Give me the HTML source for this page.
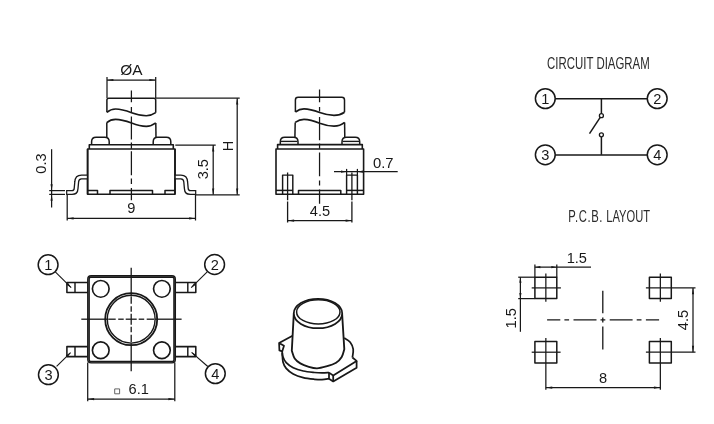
<!DOCTYPE html>
<html><head><meta charset="utf-8"><title>Tact switch drawing</title>
<style>
html,body{margin:0;padding:0;background:#fff;}
body{width:714px;height:424px;overflow:hidden;font-family:"Liberation Sans",sans-serif;}
svg{display:block;filter:grayscale(1);}
svg text{font-family:"Liberation Sans",sans-serif;}
</style></head><body>
<svg width="714" height="424" viewBox="0 0 714 424" stroke="#181818" fill="none" stroke-linecap="butt" stroke-linejoin="round">
<rect x="0" y="0" width="714" height="424" fill="#fff" stroke="none"/>
<line x1="131.4" y1="90.5" x2="131.4" y2="200.2" stroke-width="1.25" stroke-dasharray="11.8 4.7 4.9 4.5 23.1 2.9 6.4 2.4 24.1 3.2 5.6 4 12.1"/>
<line x1="107" y1="77" x2="107" y2="98" stroke-width="1.25" />
<line x1="155.7" y1="77" x2="155.7" y2="98" stroke-width="1.25" />
<line x1="107" y1="80" x2="155.7" y2="80" stroke-width="1.25" />
<polygon points="107.00,80.00 113.40,78.90 113.40,81.10" fill="#181818" stroke="none"/>
<polygon points="155.70,80.00 149.30,81.10 149.30,78.90" fill="#181818" stroke="none"/>
<text x="131.3" y="75" font-size="15.4" text-anchor="middle" fill="#181818" stroke="none" >ØA</text>
<path d="M106.9,112.3 L106.9,100 Q106.9,98.2 108.7,98.2 L153.9,98.2 Q155.7,98.2 155.7,100 L155.7,112.7" stroke-width="1.5" fill="none" />
<path d="M106.9,112.3 C109.5,110 112.5,109 115.6,109 C121,109 126,110.6 131.6,112.7 C137,114.7 142,115.7 146.3,115.7 C150,115.7 153,114.6 155.7,112.7" stroke-width="1.65" fill="none" />
<path d="M106.8,137.2 L106.8,122.6" stroke-width="1.5" fill="none" />
<path d="M156,137.2 L155.8,122.9" stroke-width="1.5" fill="none" />
<path d="M106.8,122.6 C109.5,120.3 112.5,119.4 115.6,119.4 C121,119.4 126,121 131.6,123.1 C137,125.2 142,126.4 146.3,126.4 C150,126.4 153,125 155.8,122.9" stroke-width="1.65" fill="none" />
<path d="M91.6,144.7 L91.6,141.7 Q91.6,137.2 96.1,137.2 L104.7,137.2 Q109.2,137.2 109.2,141.7 L109.2,144.7" stroke-width="1.5" fill="none" />
<path d="M153.2,144.7 L153.2,141.7 Q153.2,137.2 157.7,137.2 L166.3,137.2 Q170.8,137.2 170.8,141.7 L170.8,144.7" stroke-width="1.5" fill="none" />
<path d="M89.3,149 L89.3,144.7 L173.3,144.7 L173.3,149" stroke-width="1.6" fill="none" />
<path d="M87.6,149 L175,149 L175,194.3 L87.6,194.3 Z" stroke-width="1.6" fill="none" />
<path d="M87.6,190.4 L97.5,190.4 L97.5,194.3" stroke-width="1.5" fill="none" />
<path d="M110,194.3 L110,190.4 L152.5,190.4 L152.5,194.3" stroke-width="1.5" fill="none" />
<path d="M165,194.3 L165,190.4 L175,190.4" stroke-width="1.5" fill="none" />
<path d="M87.7,177 H81.5 Q76.9,177 76.7,182 L76.1,188.5 Q75.9,192.5 72,192.5 H66.7" stroke-width="5.1" fill="none" stroke-linecap="butt"/>
<path d="M87.7,177 H81.5 Q76.9,177 76.7,182 L76.1,188.5 Q75.9,192.5 72,192.5 H66.7" stroke-width="2.5" fill="none" stroke="#fff" stroke-linecap="butt"/>
<line x1="66.7" y1="189.9" x2="66.7" y2="195.1" stroke-width="1.2" />
<path d="M174.7,177 H180.89999999999998 Q185.49999999999997,177 185.7,182 L186.29999999999998,188.5 Q186.49999999999997,192.5 190.39999999999998,192.5 H195.7" stroke-width="5.1" fill="none" stroke-linecap="butt"/>
<path d="M174.7,177 H180.89999999999998 Q185.49999999999997,177 185.7,182 L186.29999999999998,188.5 Q186.49999999999997,192.5 190.39999999999998,192.5 H195.7" stroke-width="2.5" fill="none" stroke="#fff" stroke-linecap="butt"/>
<line x1="195.7" y1="189.9" x2="195.7" y2="195.1" stroke-width="1.2" />
<line x1="87.6" y1="149" x2="87.6" y2="194.3" stroke-width="1.6" />
<line x1="175" y1="149" x2="175" y2="194.3" stroke-width="1.6" />
<line x1="67.2" y1="195" x2="67.2" y2="220.5" stroke-width="1.25" />
<line x1="195.5" y1="195" x2="195.5" y2="220.5" stroke-width="1.25" />
<line x1="67.2" y1="218.4" x2="195.5" y2="218.4" stroke-width="1.25" />
<polygon points="67.20,218.40 73.60,217.30 73.60,219.50" fill="#181818" stroke="none"/>
<polygon points="195.50,218.40 189.10,219.50 189.10,217.30" fill="#181818" stroke="none"/>
<rect x="124" y="201" width="14" height="14" fill="#fff" stroke="none"/>
<text x="131.2" y="213.3" font-size="14.6" text-anchor="middle" fill="#181818" stroke="none" >9</text>
<line x1="51.6" y1="149.2" x2="51.6" y2="207.5" stroke-width="1.25" />
<line x1="49.2" y1="190.6" x2="65" y2="190.6" stroke-width="1.25" />
<line x1="49.2" y1="194.4" x2="65" y2="194.4" stroke-width="1.25" />
<polygon points="51.60,190.60 50.50,184.20 52.70,184.20" fill="#181818" stroke="none"/>
<polygon points="51.60,194.40 52.70,200.80 50.50,200.80" fill="#181818" stroke="none"/>
<text transform="translate(46.3,163.5) rotate(-90)" font-size="14.6" text-anchor="middle" fill="#181818" stroke="none" >0.3</text>
<line x1="175.3" y1="145.1" x2="215.7" y2="145.1" stroke-width="1.25" />
<line x1="213.2" y1="145.1" x2="213.2" y2="194.8" stroke-width="1.25" />
<polygon points="213.20,145.10 214.30,151.50 212.10,151.50" fill="#181818" stroke="none"/>
<polygon points="213.20,194.80 212.10,188.40 214.30,188.40" fill="#181818" stroke="none"/>
<text transform="translate(207.9,169.2) rotate(-90)" font-size="14.6" text-anchor="middle" fill="#181818" stroke="none" >3.5</text>
<line x1="155.7" y1="98.2" x2="239.7" y2="98.2" stroke-width="1.25" />
<line x1="237.2" y1="98.2" x2="237.2" y2="194.8" stroke-width="1.25" />
<polygon points="237.20,98.20 238.30,104.60 236.10,104.60" fill="#181818" stroke="none"/>
<polygon points="237.20,194.80 236.10,188.40 238.30,188.40" fill="#181818" stroke="none"/>
<text transform="translate(233.2,146) rotate(-90)" font-size="14.6" text-anchor="middle" fill="#181818" stroke="none" >H</text>
<line x1="196" y1="194.8" x2="239.7" y2="194.8" stroke-width="1.25" />
<line x1="319.55" y1="89.5" x2="319.55" y2="203.8" stroke-width="1.25" stroke-dasharray="12.7 4.8 4.4 5.5 23.3 3.4 5.1 3.9 23.7 4.1 5.1 3.9 14.4"/>
<path d="M295.4,112 L295.4,100 Q295.4,97.3 298.1,97.3 L341.8,97.3 Q344.5,97.3 344.5,100 L344.5,112.2" stroke-width="1.5" fill="none" />
<path d="M295.4,112 C298,110 301,108.9 304,108.9 C309.5,108.9 314.5,110.6 319.7,112.6 C325,114.6 330,115.3 334,115.3 C338,115.3 341.5,114.3 344.5,112.2" stroke-width="1.65" fill="none" />
<path d="M294.9,138 L295.2,122.4" stroke-width="1.5" fill="none" />
<path d="M344.8,138 L344.6,122.4" stroke-width="1.5" fill="none" />
<path d="M295.2,122.4 C298,120.4 301,119.3 304,119.3 C309.5,119.3 314.5,121 319.7,123.2 C325,125.2 330,126.1 334,126.1 C338,126.1 341.5,124.9 344.6,122.4" stroke-width="1.65" fill="none" />
<path d="M280.3,144.6 L280.3,141.7 Q280.3,137.2 284.8,137.2 L293.5,137.2 Q298,137.2 298,141.7 L298,144.6" stroke-width="1.5" fill="none" />
<line x1="280.90000000000003" y1="141.4" x2="297.4" y2="141.4" stroke-width="1.35" />
<path d="M342,144.6 L342,141.7 Q342,137.2 346.5,137.2 L355.2,137.2 Q359.7,137.2 359.7,141.7 L359.7,144.6" stroke-width="1.5" fill="none" />
<line x1="342.6" y1="141.4" x2="359.09999999999997" y2="141.4" stroke-width="1.35" />
<path d="M277.6,149 L277.6,144.6 L362.3,144.6 L362.3,149" stroke-width="1.6" fill="none" />
<path d="M276,149 L363.6,149 L363.6,194.3 L276,194.3 Z" stroke-width="1.6" fill="none" />
<line x1="276" y1="190.4" x2="292.8" y2="190.4" stroke-width="1.5" />
<line x1="346.6" y1="190.4" x2="363.6" y2="190.4" stroke-width="1.5" />
<path d="M298.5,194.3 L298.5,190.4 L340.8,190.4 L340.8,194.3" stroke-width="1.5" fill="none" />
<path d="M282.6,194.3 L282.6,175.1 L292.8,175.1 L292.8,194.3" stroke-width="1.45" fill="none" />
<line x1="287.6" y1="172.4" x2="287.6" y2="222.6" stroke-width="1.3" stroke-dasharray="27.8 1.4 30"/>
<path d="M346.6,194.3 L346.6,175.1 L357.4,175.1 L357.4,194.3" stroke-width="1.45" fill="none" />
<line x1="351.9" y1="172.4" x2="351.9" y2="222.6" stroke-width="1.3" stroke-dasharray="27.8 1.4 30"/>
<line x1="287.7" y1="220.6" x2="352" y2="220.6" stroke-width="1.25" />
<polygon points="287.70,220.60 294.10,219.50 294.10,221.70" fill="#181818" stroke="none"/>
<polygon points="352.00,220.60 345.60,221.70 345.60,219.50" fill="#181818" stroke="none"/>
<rect x="309" y="204" width="22" height="13" fill="#fff" stroke="none"/>
<text x="320" y="215.8" font-size="14.6" text-anchor="middle" fill="#181818" stroke="none" >4.5</text>
<line x1="334" y1="171.7" x2="397.7" y2="171.7" stroke-width="1.25" />
<polygon points="346.60,171.70 341.00,172.80 341.00,170.60" fill="#181818" stroke="none"/>
<polygon points="357.40,171.70 363.00,170.60 363.00,172.80" fill="#181818" stroke="none"/>
<line x1="346.6" y1="168.9" x2="346.6" y2="175" stroke-width="1.25" />
<line x1="357.4" y1="168.9" x2="357.4" y2="175" stroke-width="1.25" />
<text x="383.2" y="167.6" font-size="14.8" text-anchor="middle" fill="#181818" stroke="none" >0.7</text>
<rect x="66.9" y="282.5" width="21.099999999999994" height="10.0" stroke-width="1.55" fill="#fff"/>
<line x1="75" y1="282.5" x2="75" y2="292.5" stroke-width="1.45" />
<rect x="174.5" y="282.5" width="21.30000000000001" height="10.0" stroke-width="1.55" fill="#fff"/>
<line x1="187.8" y1="282.5" x2="187.8" y2="292.5" stroke-width="1.45" />
<rect x="66.9" y="346.6" width="21.099999999999994" height="10.0" stroke-width="1.55" fill="#fff"/>
<line x1="75" y1="346.6" x2="75" y2="356.6" stroke-width="1.45" />
<rect x="174.5" y="346.6" width="21.30000000000001" height="10.0" stroke-width="1.55" fill="#fff"/>
<line x1="187.8" y1="346.6" x2="187.8" y2="356.6" stroke-width="1.45" />
<rect x="87.75" y="275.75" width="87.6" height="87.1" rx="3.4" ry="3.4" stroke-width="1.35" fill="#fff"/>
<rect x="89.05" y="277.05" width="85" height="84.5" rx="1.7" ry="1.7" stroke-width="1.65" fill="#fff"/>
<circle cx="100.75" cy="288.85" r="8.35" stroke-width="1.65" fill="none"/>
<circle cx="161.9" cy="288.85" r="8.35" stroke-width="1.65" fill="none"/>
<circle cx="100.75" cy="350.2" r="8.35" stroke-width="1.65" fill="none"/>
<circle cx="161.9" cy="350.2" r="8.35" stroke-width="1.65" fill="none"/>
<circle cx="131.2" cy="319.2" r="26.0" stroke-width="1.8" fill="none"/>
<circle cx="131.2" cy="319.2" r="23.9" stroke-width="1.4" fill="none"/>
<line x1="81.3" y1="319.2" x2="107.19999999999999" y2="319.2" stroke-width="1.3" />
<line x1="155.2" y1="319.2" x2="181.6" y2="319.2" stroke-width="1.3" />
<line x1="131.2" y1="267.8" x2="131.2" y2="295.2" stroke-width="1.3" />
<line x1="131.2" y1="343.2" x2="131.2" y2="371.3" stroke-width="1.3" />
<line x1="108.19999999999999" y1="319.2" x2="115.69999999999999" y2="319.2" stroke-width="1.3" />
<line x1="131.2" y1="296.2" x2="131.2" y2="303.7" stroke-width="1.3" />
<line x1="118.19999999999999" y1="319.2" x2="123.69999999999999" y2="319.2" stroke-width="1.3" />
<line x1="131.2" y1="306.2" x2="131.2" y2="311.7" stroke-width="1.3" />
<line x1="125.69999999999999" y1="319.2" x2="136.7" y2="319.2" stroke-width="1.3" />
<line x1="131.2" y1="313.7" x2="131.2" y2="324.7" stroke-width="1.3" />
<line x1="138.7" y1="319.2" x2="144.2" y2="319.2" stroke-width="1.3" />
<line x1="131.2" y1="326.7" x2="131.2" y2="332.2" stroke-width="1.3" />
<line x1="146.7" y1="319.2" x2="154.2" y2="319.2" stroke-width="1.3" />
<line x1="131.2" y1="334.7" x2="131.2" y2="342.2" stroke-width="1.3" />
<line x1="55.3" y1="271.8" x2="71.2" y2="287.7" stroke-width="1.1" />
<polygon points="71.20,287.70 66.46,284.66 68.16,282.96" fill="#181818" stroke="none"/>
<line x1="207.2" y1="271.8" x2="191.2" y2="287.7" stroke-width="1.1" />
<polygon points="191.20,287.70 194.26,282.97 195.95,284.67" fill="#181818" stroke="none"/>
<line x1="56.6" y1="366.3" x2="70.6" y2="352.6" stroke-width="1.1" />
<polygon points="70.60,352.60 67.51,357.30 65.83,355.59" fill="#181818" stroke="none"/>
<line x1="207.8" y1="366.5" x2="191.6" y2="352.3" stroke-width="1.1" />
<polygon points="191.60,352.30 196.53,355.02 194.95,356.83" fill="#181818" stroke="none"/>
<circle cx="48.1" cy="264.7" r="9.9" stroke-width="1.5" fill="#fff"/>
<text x="48.2" y="269.7" font-size="14.6" text-anchor="middle" fill="#181818" stroke="none" >1</text>
<circle cx="214.6" cy="264.5" r="9.9" stroke-width="1.5" fill="#fff"/>
<text x="214.7" y="269.5" font-size="14.6" text-anchor="middle" fill="#181818" stroke="none" >2</text>
<circle cx="48.4" cy="374.7" r="9.9" stroke-width="1.5" fill="#fff"/>
<text x="48.5" y="379.7" font-size="14.6" text-anchor="middle" fill="#181818" stroke="none" >3</text>
<circle cx="215.3" cy="373.6" r="9.9" stroke-width="1.5" fill="#fff"/>
<text x="215.4" y="378.6" font-size="14.6" text-anchor="middle" fill="#181818" stroke="none" >4</text>
<line x1="87.7" y1="362.5" x2="87.7" y2="401.2" stroke-width="1.25" />
<line x1="174.8" y1="362.5" x2="174.8" y2="401.2" stroke-width="1.25" />
<line x1="87.7" y1="399.1" x2="174.8" y2="399.1" stroke-width="1.25" />
<polygon points="87.70,399.10 94.10,398.00 94.10,400.20" fill="#181818" stroke="none"/>
<polygon points="174.80,399.10 168.40,400.20 168.40,398.00" fill="#181818" stroke="none"/>
<text x="138.7" y="393.8" font-size="14.6" text-anchor="middle" fill="#181818" stroke="none" >6.1</text>
<rect x="114.7" y="388.9" width="4.9" height="4.9" stroke-width="0.9" stroke="#555" fill="none"/>
<path d="M293,335.4 L279.1,342.9 L279.4,350.4 L282.2,351.4 L284,345.7 L279.1,342.9" stroke-width="1.75" fill="none" />
<path d="M282.20,351.40 C282.28,352.22 282.03,354.42 282.70,356.30 C283.37,358.18 284.45,360.80 286.20,362.70 C287.95,364.60 290.37,366.32 293.20,367.70 C296.03,369.08 299.65,370.20 303.20,371.00 C306.75,371.80 311.37,372.18 314.50,372.50 C317.63,372.82 319.58,372.88 322.00,372.90 C324.42,372.92 327.83,372.65 329.00,372.60" stroke-width="1.75" fill="none" />
<path d="M282.30,353.00 C282.42,354.50 282.35,359.43 283.00,362.00 C283.65,364.57 284.50,366.40 286.20,368.40 C287.90,370.40 290.37,372.47 293.20,374.00 C296.03,375.53 299.65,376.72 303.20,377.60 C306.75,378.48 311.37,378.95 314.50,379.30 C317.63,379.65 319.58,379.80 322.00,379.70 C324.42,379.60 327.83,378.87 329.00,378.70" stroke-width="1.75" fill="none" />
<path d="M329,372.6 L333.2,375.5 L356.6,360.9 L352.4,357.5" stroke-width="1.75" fill="none" />
<path d="M329,372.6 L329,378.7 L333.2,381.4 L356.6,367.7 L356.6,360.9" stroke-width="1.75" fill="none" />
<line x1="333.2" y1="375.5" x2="333.2" y2="381.4" stroke-width="1.75" />
<path d="M344.20,337.90 C345.20,338.62 348.70,340.32 350.20,342.20 C351.70,344.08 352.83,346.65 353.20,349.20 C353.57,351.75 352.53,356.12 352.40,357.50" stroke-width="1.75" fill="none" />
<path d="M293.8,313.5 L291.8,350.7 C292.28,352.00 293.28,356.38 294.70,358.50 C296.12,360.62 297.95,362.02 300.30,363.40 C302.65,364.78 306.02,365.98 308.80,366.80 C311.58,367.62 314.10,368.37 317.00,368.30 C319.90,368.23 323.02,367.33 326.20,366.40 C329.38,365.47 333.52,364.27 336.10,362.70 C338.68,361.13 340.33,359.25 341.70,357.00 C343.07,354.75 343.87,350.50 344.30,349.20 L342.1,313.5" stroke-width="1.85" fill="#fff" />
<ellipse cx="318" cy="313.5" rx="24.2" ry="14.7" stroke-width="1.8" fill="#fff"/>
<ellipse cx="318.3" cy="311.9" rx="21.7" ry="12.1" stroke-width="1.5" fill="#fff"/>
<text transform="translate(598.4,69.0) scale(0.715,1)" font-size="16" text-anchor="middle" fill="#2b2b2b" stroke="none" >CIRCUIT DIAGRAM</text>
<line x1="555" y1="98.7" x2="647" y2="98.7" stroke-width="1.5" />
<line x1="555" y1="154.9" x2="647" y2="154.9" stroke-width="1.5" />
<circle cx="545.3" cy="98.6" r="9.9" stroke-width="1.5" fill="#fff"/>
<text x="545.4" y="103.6" font-size="14.6" text-anchor="middle" fill="#181818" stroke="none" >1</text>
<circle cx="657.2" cy="98.6" r="9.9" stroke-width="1.5" fill="#fff"/>
<text x="657.3000000000001" y="103.6" font-size="14.6" text-anchor="middle" fill="#181818" stroke="none" >2</text>
<circle cx="545.3" cy="154.8" r="9.9" stroke-width="1.5" fill="#fff"/>
<text x="545.4" y="159.8" font-size="14.6" text-anchor="middle" fill="#181818" stroke="none" >3</text>
<circle cx="657.2" cy="154.8" r="9.9" stroke-width="1.5" fill="#fff"/>
<text x="657.3000000000001" y="159.8" font-size="14.6" text-anchor="middle" fill="#181818" stroke="none" >4</text>
<line x1="601.4" y1="98.6" x2="601.4" y2="113.7" stroke-width="1.5" />
<line x1="601.4" y1="136.8" x2="601.4" y2="154.8" stroke-width="1.5" />
<circle cx="601.4" cy="115.7" r="2.0" stroke-width="1.3" fill="#fff"/>
<circle cx="601.4" cy="134.8" r="2.0" stroke-width="1.3" fill="#fff"/>
<line x1="600.2" y1="117.4" x2="589.5" y2="133.6" stroke-width="1.5" />
<text transform="translate(568.2,221.6) scale(0.705,1)" font-size="16" text-anchor="start" fill="#2b2b2b" stroke="none" letter-spacing="0.9">P.C.B.</text>
<text transform="translate(650.0,221.6) scale(0.697,1)" font-size="16" text-anchor="end" fill="#2b2b2b" stroke="none" >LAYOUT</text>
<rect x="534.9" y="277.2" width="21.9" height="21.4" stroke-width="1.5" fill="none"/>
<line x1="531.7" y1="287.9" x2="560.9" y2="287.9" stroke-width="1.25" />
<line x1="545.85" y1="273.4" x2="545.85" y2="301.7" stroke-width="1.25" />
<rect x="649.4" y="277.2" width="21.9" height="21.4" stroke-width="1.5" fill="none"/>
<line x1="645.9" y1="287.9" x2="695.5" y2="287.9" stroke-width="1.25" />
<line x1="660.35" y1="273.4" x2="660.35" y2="301.7" stroke-width="1.25" />
<rect x="534.9" y="341.5" width="21.9" height="21.4" stroke-width="1.5" fill="none"/>
<line x1="531.7" y1="352.2" x2="560.6" y2="352.2" stroke-width="1.25" />
<line x1="545.85" y1="338" x2="545.85" y2="389.8" stroke-width="1.25" />
<rect x="649.4" y="341.5" width="21.9" height="21.4" stroke-width="1.5" fill="none"/>
<line x1="645.9" y1="352.2" x2="695.5" y2="352.2" stroke-width="1.25" />
<line x1="660.35" y1="338" x2="660.35" y2="389.8" stroke-width="1.25" />
<line x1="534.9" y1="264.6" x2="534.9" y2="277.2" stroke-width="1.25" />
<line x1="556.8" y1="264.6" x2="556.8" y2="277.2" stroke-width="1.25" />
<line x1="534.9" y1="267.2" x2="591" y2="267.2" stroke-width="1.25" />
<polygon points="534.90,267.20 540.40,266.10 540.40,268.30" fill="#181818" stroke="none"/>
<polygon points="556.80,267.20 551.30,268.30 551.30,266.10" fill="#181818" stroke="none"/>
<text x="576.8" y="263.4" font-size="14.6" text-anchor="middle" fill="#181818" stroke="none" >1.5</text>
<line x1="518.2" y1="277.2" x2="534.9" y2="277.2" stroke-width="1.25" />
<line x1="518.2" y1="298.6" x2="534.9" y2="298.6" stroke-width="1.25" />
<line x1="520.4" y1="277.2" x2="520.4" y2="331.8" stroke-width="1.25" />
<polygon points="520.40,277.20 521.50,282.70 519.30,282.70" fill="#181818" stroke="none"/>
<polygon points="520.40,298.60 519.30,293.10 521.50,293.10" fill="#181818" stroke="none"/>
<text transform="translate(515.7,318.3) rotate(-90)" font-size="14.6" text-anchor="middle" fill="#181818" stroke="none" >1.5</text>
<line x1="693" y1="287.9" x2="693" y2="352.2" stroke-width="1.25" />
<polygon points="693.00,287.90 694.10,294.30 691.90,294.30" fill="#181818" stroke="none"/>
<polygon points="693.00,352.20 691.90,345.80 694.10,345.80" fill="#181818" stroke="none"/>
<text transform="translate(687.7,320) rotate(-90)" font-size="14.6" text-anchor="middle" fill="#181818" stroke="none" >4.5</text>
<line x1="545.85" y1="387.6" x2="660.35" y2="387.6" stroke-width="1.25" />
<polygon points="545.85,387.60 552.25,386.50 552.25,388.70" fill="#181818" stroke="none"/>
<polygon points="660.35,387.60 653.95,388.70 653.95,386.50" fill="#181818" stroke="none"/>
<text x="603" y="382.8" font-size="14.6" text-anchor="middle" fill="#181818" stroke="none" >8</text>
<line x1="602.8" y1="290.8" x2="602.8" y2="349.4" stroke-width="1.3" stroke-dasharray="22.4 4.4 4.8 4.1 22.9"/>
<line x1="547.1" y1="319.9" x2="659.1" y2="319.9" stroke-width="1.3" stroke-dasharray="13.2 4.1 4.7 4.4 23 4 4.8 4.4 22.9 4.1 4.8 4.4 13.2"/>
</svg>
</body></html>
